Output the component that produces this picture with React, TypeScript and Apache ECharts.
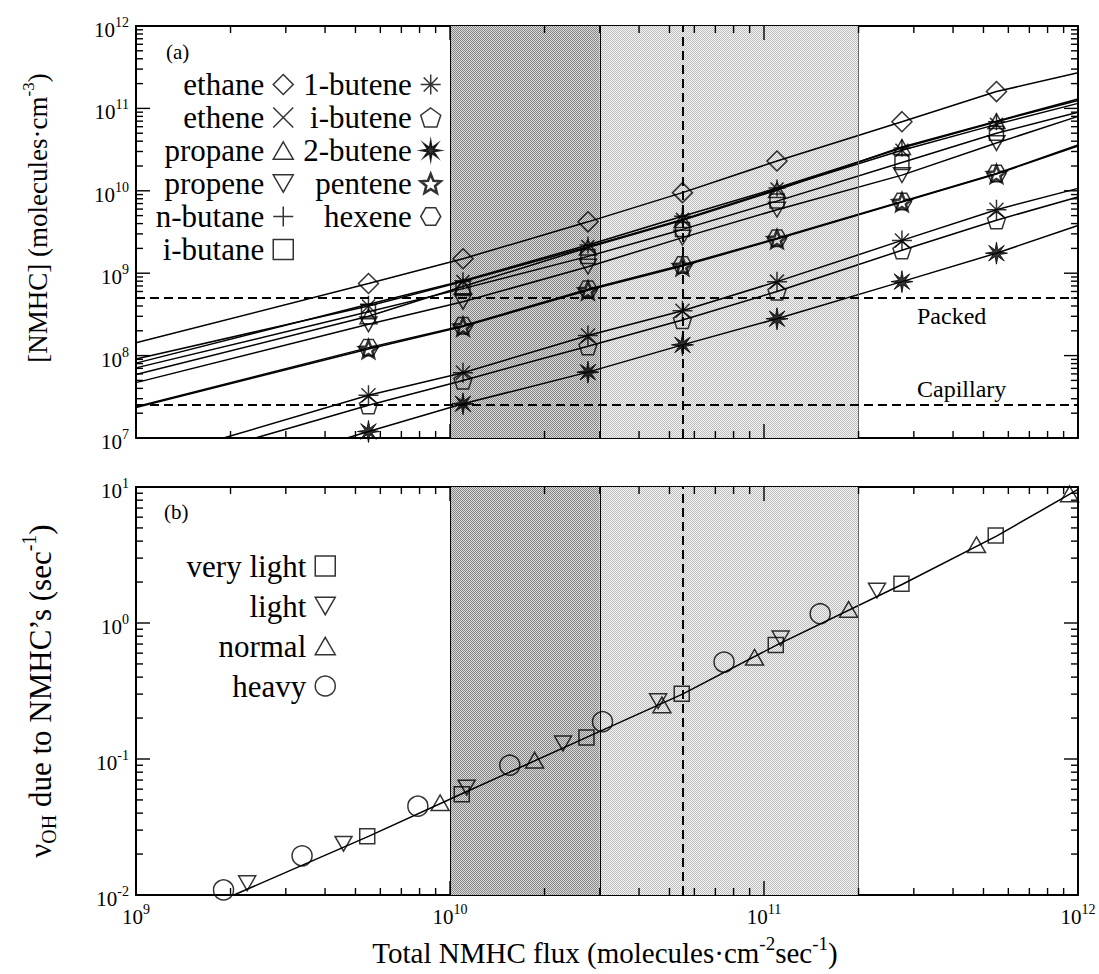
import React, { useEffect, useRef } from "react";
import * as echarts from "echarts";

const FONT = "Liberation Serif, Times New Roman, serif";

// ---------- panel (a) data ----------
const FLUX = [5.5e9, 1.1e10, 2.75e10, 5.5e10, 1.1e11, 2.75e11, 5.5e11];
const SPECIES = ["ethane", "ethene", "propane", "propene", "n-butane", "i-butane", "1-butene", "i-butene", "2-butene", "pentene", "hexene"];
const ETHANE = [7.5e8, 1.5e9, 4.2e9, 9.5e9, 2.3e10, 6.9e10, 1.6e11];
const ETHENE = [4.0e8, 7.9e8, 2.1e9, 4.5e9, 1.05e10, 3.1e10, 6.4e10];
const PROPANE = [3.0e8, 6.9e8, 2.05e9, 4.4e9, 1.02e10, 3.4e10, 7.0e10];
const PROPENE = [2.4e8, 4.5e8, 1.2e9, 2.7e9, 5.9e9, 1.55e10, 3.8e10];
const NBUTANE = [4.2e8, 8.1e8, 2.2e9, 4.9e9, 1.08e10, 3.3e10, 6.9e10];
const IBUTANE = [3.4e8, 6.5e8, 1.6e9, 3.4e9, 7.5e9, 2.2e10, 5.0e10];
const BUTENE1 = [3.3e7, 6.2e7, 1.75e8, 3.5e8, 7.9e8, 2.5e9, 5.9e9];
const IBUTENE = [2.5e7, 5.0e7, 1.3e8, 2.7e8, 6.0e8, 1.9e9, 4.4e9];
const BUTENE2 = [1.2e7, 2.6e7, 6.3e7, 1.35e8, 2.8e8, 7.9e8, 1.75e9];
const PENTENE = [1.2e8, 2.25e8, 6.2e8, 1.22e9, 2.6e9, 7.3e9, 1.6e10];
const HEXENE = [1.25e8, 2.3e8, 6.4e8, 1.26e9, 2.65e9, 7.4e9, 1.62e10];
const CONC = [ETHANE, ETHENE, PROPANE, PROPENE, NBUTANE, IBUTANE, BUTENE1, IBUTENE, BUTENE2, PENTENE, HEXENE];
// fitted curve end points (where each curve enters / leaves the frame)
const CURVE_START_X = [1e9, 1e9, 1e9, 1e9, 1e9, 1e9, 1.9e9, 2.4e9, 4.7e9, 1e9, 1e9];
const CURVE_START_Y = [1.43e8, 9.1e7, 5.9e7, 4.7e7, 8.1e7, 7.1e7, 1e7, 1e7, 1e7, 2.35e7, 2.4e7];
const CURVE_END_Y = [2.7e11, 1.15e11, 1.3e11, 8.0e10, 1.25e11, 9.0e10, 1.07e10, 8.4e9, 3.8e9, 3.5e10, 3.6e10];
const PACKED = 5e8;
const CAPILLARY = 2.5e7;

// ---------- panel (b) data ----------
const OH_NAMES = ["very light", "light", "normal", "heavy"];
const VLIGHT_X = [5.45e9, 1.09e10, 2.72e10, 5.47e10, 1.09e11, 2.74e11, 5.47e11];
const VLIGHT_Y = [0.027, 0.055, 0.144, 0.302, 0.688, 1.94, 4.39];
const LIGHT_X = [2.26e9, 4.58e9, 1.13e10, 2.29e10, 4.6e10, 1.13e11, 2.29e11];
const LIGHT_Y = [0.0122, 0.0238, 0.0617, 0.13, 0.266, 0.77, 1.73];
const NORMAL_X = [9.3e9, 1.86e10, 4.73e10, 9.33e10, 1.86e11, 4.75e11, 9.4e11];
const NORMAL_Y = [0.0477, 0.098, 0.25, 0.56, 1.26, 3.76, 8.9];
const HEAVY_X = [1.9e9, 3.38e9, 7.9e9, 1.55e10, 3.06e10, 7.46e10, 1.51e11];
const HEAVY_Y = [0.0109, 0.0194, 0.045, 0.09, 0.188, 0.516, 1.17];
const FIT_X = [2.05e9, 5.5e9, 1.1e10, 2.7e10, 5.5e10, 1.1e11, 2.75e11, 5.5e11, 1e12];
const FIT_Y = [0.01, 0.027, 0.056, 0.143, 0.3, 0.69, 1.92, 4.35, 9.6];

// regions
const DARK_FROM = 1e10, DARK_TO = 3e10, LIGHT_TO = 2e11, BASE_FLUX = 5.5e10;

// titles: [text, kind] where kind n = normal, s = superscript, d = subscript
const TITLE_A: [string, string][] = [["[NMHC] (molecules·cm", "n"], ["-3", "s"], [")", "n"]];
const TITLE_B: [string, string][] = [["ν", "n"], ["OH", "d"], [" due to NMHC’s (sec", "n"], ["-1", "s"], [")", "n"]];
const TITLE_X: [string, string][] = [["Total NMHC flux (molecules·cm", "n"], ["-2", "s"], ["sec", "n"], ["-1", "s"], [")", "n"]];

// ---------- symbols ----------
function polyPath(n: number, start: number) {
  let d = "";
  for (let i = 0; i < n; i++) {
    const a = ((start + (i * 360) / n) * Math.PI) / 180;
    d += (i ? "L" : "M") + (50 + 50 * Math.cos(a)).toFixed(2) + " " + (50 + 50 * Math.sin(a)).toFixed(2);
  }
  return "path://" + d + "Z";
}
function starPath(n: number, ri: number, start: number) {
  let d = "";
  for (let i = 0; i < 2 * n; i++) {
    const r = i % 2 ? ri : 50;
    const a = ((start + (i * 180) / n) * Math.PI) / 180;
    d += (i ? "L" : "M") + (50 + r * Math.cos(a)).toFixed(2) + " " + (50 + r * Math.sin(a)).toFixed(2);
  }
  return "path://" + d + "Z";
}
const SYM = {
  diamond: "path://M50 0L100 50L50 100L0 50Z",
  cross: "path://M0 0L100 100M100 0L0 100",
  triUp: "path://M50 0L100 87L0 87Z",
  triDown: "path://M0 0L100 0L50 87Z",
  plus: "path://M50 0L50 100M0 50L100 50",
  square: "path://M0 0L100 0L100 100L0 100Z",
  asterisk: "path://M50 0L50 100M0 50L100 50M15 15L85 85M85 15L15 85",
  pentagon: polyPath(5, -90),
  boldStar: starPath(8, 16, -90),
  star5: starPath(5, 22, -90),
  hexagon: polyPath(6, 0),
};
const SPECIES_SYM = [SYM.diamond, SYM.cross, SYM.triUp, SYM.triDown, SYM.plus, SYM.square, SYM.asterisk, SYM.pentagon, SYM.boldStar, SYM.star5, SYM.hexagon];
const SPECIES_SIZE = [20, 13, 17, 17, 17, 14, 20, 18, 22, 18, 19];

function makeDots(bg: string, fg: string) {
  const c = document.createElement("canvas");
  c.width = 2;
  c.height = 2;
  const ctx = c.getContext("2d")!;
  ctx.fillStyle = bg;
  ctx.fillRect(0, 0, 2, 2);
  ctx.fillStyle = fg;
  ctx.fillRect(0, 0, 1, 1);
  ctx.fillRect(1, 1, 1, 1);
  return c;
}

const MINOR = [2, 3, 4, 5, 6, 7, 8, 9];
function tickList(d0: number, d1: number) {
  const out: number[][] = [];
  for (let d = d0; d < d1; d++) {
    if (d > d0) out.push([Math.pow(10, d), 1]);
    for (const k of MINOR) out.push([k * Math.pow(10, d), 0]);
  }
  return out;
}

function tickSeries(ax: number, dir: "x" | "y", ticks: number[][], xr: number[], yr: number[]) {
  const st = { stroke: "#000", lineWidth: 1.4 };
  return {
    type: "custom",
    xAxisIndex: ax,
    yAxisIndex: ax,
    silent: true,
    z: 10,
    data: ticks.map(([v, m]) => (dir === "x" ? [v, yr[0], m] : [xr[0], v, m])),
    renderItem: (_p: any, api: any) => {
      const v = dir === "x" ? api.value(0) : api.value(1);
      const len = api.value(2) ? 14 : 7;
      if (dir === "x") {
        const b = api.coord([v, yr[0]]);
        const t = api.coord([v, yr[1]]);
        return {
          type: "group",
          children: [
            { type: "line", shape: { x1: b[0], y1: b[1], x2: b[0], y2: b[1] - len }, style: st },
            { type: "line", shape: { x1: t[0], y1: t[1], x2: t[0], y2: t[1] + len }, style: st },
          ],
        };
      }
      const l = api.coord([xr[0], v]);
      const r = api.coord([xr[1], v]);
      return {
        type: "group",
        children: [
          { type: "line", shape: { x1: l[0], y1: l[1], x2: l[0] + len, y2: l[1] }, style: st },
          { type: "line", shape: { x1: r[0], y1: r[1], x2: r[0] - len, y2: r[1] }, style: st },
        ],
      };
    },
  };
}

const powLabel = {
  formatter: (v: number) => `{b|10}{s|${Math.round(Math.log10(v))}}`,
  rich: {
    b: { fontFamily: FONT, fontSize: 21, lineHeight: 21, padding: [4, 0, 0, 0], verticalAlign: "top", color: "#000" },
    s: { fontFamily: FONT, fontSize: 14, lineHeight: 14, verticalAlign: "top", color: "#000" },
  },
};

function axis(grid: number, position: string, min: number, max: number, labels: boolean) {
  return {
    type: "log",
    gridIndex: grid,
    position,
    min,
    max,
    axisLine: { show: true, onZero: false, lineStyle: { color: "#000", width: 2 } },
    axisTick: { show: false },
    splitLine: { show: false },
    minorTick: { show: false },
    axisLabel: labels ? { show: true, margin: 7, showMinLabel: true, showMaxLabel: true, ...powLabel } : { show: false },
  };
}

export default function App() {
  const ref = useRef<HTMLDivElement>(null);
  useEffect(() => {
    document.body.style.margin = "0";
    const chart = echarts.init(ref.current!, null, { renderer: "svg" });
    const mctx = document.createElement("canvas").getContext("2d")!;
    const measure = (t: string, size: number) => {
      mctx.font = `${size}px ${FONT}`;
      return mctx.measureText(t).width;
    };
    const dark = { image: makeDots("#dadada", "#868686"), repeat: "repeat" };
    const light = { image: makeDots("#f4f4f4", "#bdbdbd"), repeat: "repeat" };
    const XR = [1e9, 1e12];
    const YA = [1e7, 1e12];
    const YB = [1e-2, 1e1];
    const thin = (c: string) => ({ type: "solid", width: 1, color: c });
    const dash = { type: [9, 5], width: 2, color: "#000" };
    const regionArea = {
      silent: true,
      data: [
        [{ xAxis: DARK_FROM, itemStyle: { color: dark } }, { xAxis: DARK_TO }],
        [{ xAxis: DARK_TO, itemStyle: { color: light } }, { xAxis: LIGHT_TO }],
      ],
    };
    const vLines = [
      { xAxis: DARK_FROM, lineStyle: thin("#000") },
      { xAxis: DARK_TO, lineStyle: thin("#000") },
      { xAxis: LIGHT_TO, lineStyle: thin("#666") },
      { xAxis: BASE_FLUX, lineStyle: dash },
    ];
    const lineStyle = { color: "#000", width: 1.5 };
    const open = { color: "transparent", borderColor: "#000", borderWidth: 1.5 };

    const series: any[] = [];
    SPECIES.forEach((name, i) => {
      const pts = FLUX.map((x, j) => [x, CONC[i][j]]);
      series.push({
        name: name + " curve",
        type: "line",
        xAxisIndex: 0,
        yAxisIndex: 0,
        symbol: "none",
        silent: true,
        z: 3,
        lineStyle,
        data: [[CURVE_START_X[i], CURVE_START_Y[i]], ...pts, [XR[1], CURVE_END_Y[i]]],
        ...(i === 0
          ? {
              markArea: regionArea,
              markLine: {
                silent: true,
                symbol: ["none", "none"],
                label: { show: false },
                data: [...vLines, { yAxis: PACKED, lineStyle: dash }, { yAxis: CAPILLARY, lineStyle: dash }],
              },
            }
          : {}),
      });
    });
    SPECIES.forEach((name, i) => {
      series.push({
        name,
        type: "scatter",
        xAxisIndex: 0,
        yAxisIndex: 0,
        symbol: SPECIES_SYM[i],
        symbolSize: SPECIES_SIZE[i],
        symbolKeepAspect: true,
        z: 4,
        itemStyle: name === "2-butene" ? { color: "#000", borderColor: "#000", borderWidth: 1 } : { ...open, borderWidth: name === "pentene" ? 2.6 : 1.5 },
        data: FLUX.map((x, j) => [x, CONC[i][j]]),
      });
    });
    series.push({
      name: "fit",
      type: "line",
      xAxisIndex: 2,
      yAxisIndex: 2,
      symbol: "none",
      silent: true,
      z: 3,
      lineStyle,
      data: FIT_X.map((x, i) => [x, FIT_Y[i]]),
      markArea: regionArea,
      markLine: { silent: true, symbol: ["none", "none"], label: { show: false }, data: vLines },
    });
    const ohX = [VLIGHT_X, LIGHT_X, NORMAL_X, HEAVY_X];
    const ohY = [VLIGHT_Y, LIGHT_Y, NORMAL_Y, HEAVY_Y];
    const ohSym = [SYM.square, SYM.triDown, SYM.triUp, "circle"];
    const ohSize = [15, 17, 18, 20];
    OH_NAMES.forEach((name, i) => {
      series.push({
        name,
        type: "scatter",
        xAxisIndex: 2,
        yAxisIndex: 2,
        symbol: ohSym[i],
        symbolSize: ohSize[i],
        symbolKeepAspect: true,
        z: 4,
        itemStyle: open,
        data: ohX[i].map((x, j) => [x, ohY[i][j]]),
      });
    });
    series.push(tickSeries(0, "x", tickList(9, 12), XR, YA));
    series.push(tickSeries(0, "y", tickList(7, 12), XR, YA));
    series.push(tickSeries(2, "x", tickList(9, 12), XR, YB));
    series.push(tickSeries(2, "y", tickList(-2, 1), XR, YB));

    const legendBase = {
      orient: "vertical",
      align: "right",
      itemWidth: 20,
      itemHeight: 20,
      itemGap: 0,
      selectedMode: false,
      itemStyle: { borderWidth: 1.5 },
      textStyle: { fontFamily: FONT, fontSize: 31, color: "#000", lineHeight: 33, padding: [0, 4, 0, 0] },
    };

    const text = (x: number, y: number, t: string, size: number) => ({
      type: "text",
      x,
      y,
      silent: true,
      style: { text: t, fontFamily: FONT, fontSize: size, fill: "#000", align: "left", verticalAlign: "middle" },
    });
    const title = (x: number, y: number, parts: [string, string][], size: number, rot: number) => {
      const pieces = parts.map(([t, k]) => {
        const s = k === "n" ? size : Math.round(size * 0.64);
        return { t, s, dy: k === "s" ? -size * 0.34 : k === "d" ? size * 0.3 : 0, w: measure(t, s) };
      });
      const total = pieces.reduce((a, p) => a + p.w, 0);
      let cx = -total / 2;
      const children = pieces.map((p) => {
        const el = {
          type: "text",
          x: cx,
          y: p.dy,
          silent: true,
          style: { text: p.t, fontFamily: FONT, fontSize: p.s, fill: "#000", align: "left", verticalAlign: "middle" },
        };
        cx += p.w;
        return el;
      });
      return { type: "group", x, y, rotation: rot, silent: true, children };
    };

    chart.setOption({
      animation: false,
      backgroundColor: "#fff",
      grid: [
        { left: 136, top: 26, width: 942, height: 412 },
        { left: 136, top: 487, width: 942, height: 408 },
      ],
      xAxis: [axis(0, "bottom", XR[0], XR[1], false), axis(0, "top", XR[0], XR[1], false), axis(1, "bottom", XR[0], XR[1], true), axis(1, "top", XR[0], XR[1], false)],
      yAxis: [axis(0, "left", YA[0], YA[1], true), axis(0, "right", YA[0], YA[1], false), axis(1, "left", YB[0], YB[1], true), axis(1, "right", YB[0], YB[1], false)],
      legend: [
        { ...legendBase, data: SPECIES.slice(0, 6).map((n) => ({ name: n })), right: 800, top: 63 },
        { ...legendBase, data: SPECIES.slice(6).map((n) => (n === "pentene" ? { name: n, itemStyle: { borderWidth: 2.6 } } : { name: n })), right: 652, top: 63 },
        { ...legendBase, data: OH_NAMES, right: 758, top: 541, textStyle: { ...legendBase.textStyle, lineHeight: 40 } },
      ],
      graphic: [
        text(166, 52, "(a)", 21),
        text(164, 512, "(b)", 21),
        text(917, 316, "Packed", 24),
        text(917, 389, "Capillary", 24),
        title(38, 218, TITLE_A, 27, Math.PI / 2),
        title(40, 691, TITLE_B, 31, Math.PI / 2),
        title(605, 953, TITLE_X, 29, 0),
      ],
      series,
    });
    return () => chart.dispose();
  }, []);
  return <div ref={ref} style={{ width: 1099, height: 974 }} />;
}
